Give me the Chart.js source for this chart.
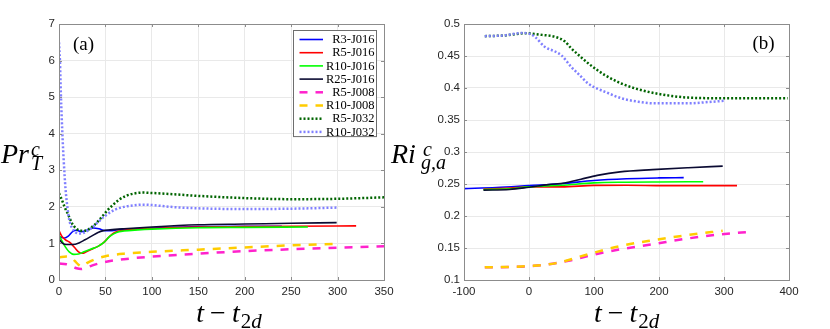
<!DOCTYPE html>
<html>
<head>
<meta charset="utf-8">
<script src="https://cdn.jsdelivr.net/npm/chart.js@4.4.1/dist/chart.umd.min.js"></script>
<style>
  html, body { margin: 0; padding: 0; background: #fff; }
  #wrap { position: relative; width: 830px; height: 329px; overflow: hidden; }
  canvas { position: absolute; top: 0; }
  #cA { left: 0; }
  #cB { left: 385px; }
</style>
</head>
<body>
<div id="wrap">
  <canvas id="cA" width="415" height="329" style="width:415px;height:329px"></canvas>
  <canvas id="cB" width="445" height="329" style="width:445px;height:329px"></canvas>
</div>
<script>
// ---- ticks ----
const xTicksA = [0, 50, 100, 150, 200, 250, 300, 350];
const yTicksA = [0, 1, 2, 3, 4, 5, 6, 7];
const xTicksB = [-100, 0, 100, 200, 300, 400];
const yTicksB = [0.1, 0.15, 0.2, 0.25, 0.3, 0.35, 0.4, 0.45, 0.5];

const seriesNames = ['R3-J016', 'R5-J016', 'R10-J016', 'R25-J016', 'R5-J008', 'R10-J008', 'R5-J032', 'R10-J032'];

// ---- panel (a): Pr_T^c vs t - t2d, [t, value] ----
const prR3J016 = [[0,1.2],[3,1.16],[6,1.15],[10,1.2],[15,1.33],[19,1.36],[24,1.32],[30,1.36],[37,1.42],[43,1.4],[50,1.35],[57,1.35],[65,1.38],[80,1.4],[100,1.42],[150,1.46],[200,1.47],[240,1.47]];
const prR5J016 = [[0,1.35],[3,1.2],[7,1.1],[12,1.02],[17,0.88],[21,0.77],[25,0.73],[30,0.78],[36,0.85],[42,0.92],[48,1.02],[54,1.18],[60,1.3],[70,1.36],[85,1.39],[100,1.41],[150,1.45],[200,1.46],[250,1.47],[320,1.48]];
const prR10J016 = [[0,1.23],[3,1.08],[7,0.9],[11,0.77],[16,0.7],[21,0.71],[27,0.77],[34,0.84],[42,0.92],[48,1.02],[55,1.2],[62,1.3],[70,1.34],[85,1.37],[100,1.39],[150,1.43],[200,1.44],[268,1.45]];
const prR25J016 = [[0,1.12],[4,1.0],[8,0.97],[15,0.97],[22,1.02],[28,1.1],[35,1.2],[42,1.3],[48,1.35],[55,1.37],[70,1.4],[100,1.45],[150,1.51],[200,1.53],[250,1.55],[299,1.57]];
const prR5J008 = [[0,0.45],[8,0.43],[14,0.38],[19,0.32],[24,0.3],[30,0.34],[36,0.4],[44,0.46],[55,0.52],[70,0.57],[100,0.64],[150,0.72],[200,0.79],[250,0.84],[300,0.88],[350,0.92]];
const prR10J008 = [[0,0.62],[8,0.64],[13,0.62],[17,0.52],[21,0.42],[25,0.37],[30,0.46],[38,0.56],[50,0.65],[70,0.72],[100,0.77],[150,0.83],[200,0.89],[250,0.95],[300,0.99]];
const prR5J032 = [[0,2.37],[3,2.2],[6,2.0],[10,1.78],[14,1.55],[18,1.42],[23,1.35],[28,1.35],[34,1.42],[40,1.55],[46,1.72],[52,1.9],[58,2.05],[65,2.2],[72,2.3],[80,2.36],[90,2.39],[100,2.38],[120,2.35],[150,2.3],[200,2.24],[250,2.21],[300,2.22],[350,2.26]];
const prR10J032 = [[0,6.5],[1,6.0],[2,5.1],[3,4.4],[4,3.8],[5,3.3],[7,2.5],[9,2.0],[11,1.65],[14,1.42],[18,1.3],[23,1.27],[29,1.32],[35,1.42],[42,1.58],[50,1.76],[60,1.92],[70,2.0],[80,2.04],[90,2.06],[100,2.05],[120,2.0],[150,1.96],[200,1.94],[250,1.95],[300,1.98]];

// ---- panel (b): Ri_{g,a}^c vs t - t2d ----
const riR3J016 = [[-100,0.2427],[-50,0.2445],[0,0.2475],[50,0.2505],[100,0.2555],[150,0.2582],[200,0.2595],[238,0.26]];
const riR5J016 = [[-70,0.242],[-30,0.2435],[0,0.2455],[50,0.2455],[100,0.2478],[150,0.248],[200,0.2475],[250,0.2474],[320,0.2474]];
const riR10J016 = [[-70,0.2412],[-30,0.2425],[0,0.2455],[50,0.248],[100,0.2518],[150,0.2528],[200,0.2532],[268,0.2535]];
const riR25J016 = [[-70,0.2405],[-30,0.2415],[0,0.245],[30,0.249],[55,0.2515],[80,0.2575],[105,0.2635],[140,0.269],[190,0.2725],[245,0.2755],[298,0.278]];
const riR5J008 = [[-68,0.1198],[-30,0.1203],[0,0.1215],[30,0.1245],[65,0.131],[100,0.1398],[140,0.1478],[190,0.1558],[245,0.165],[296,0.1714],[342,0.1755]];
const riR10J008 = [[-68,0.1198],[-30,0.1205],[0,0.1218],[40,0.126],[90,0.14],[140,0.153],[190,0.162],[245,0.1703],[298,0.177]];
const riR5J032 = [[-68,0.481],[-40,0.482],[-5,0.4855],[20,0.483],[40,0.48],[55,0.473],[65,0.462],[78,0.45],[91,0.4386],[105,0.428],[117,0.42],[142,0.407],[168,0.398],[193,0.392],[220,0.3875],[245,0.385],[300,0.384],[350,0.384],[398,0.384]];
const riR10J032 = [[-68,0.481],[-40,0.482],[-10,0.486],[0,0.485],[9,0.48],[24,0.4646],[40,0.457],[50,0.451],[65,0.433],[78,0.42],[91,0.407],[105,0.399],[117,0.394],[142,0.384],[168,0.3786],[193,0.376],[245,0.376],[275,0.378],[300,0.38]];

const panelA = [prR3J016, prR5J016, prR10J016, prR25J016, prR5J008, prR10J008, prR5J032, prR10J032];
const panelB = [riR3J016, riR5J016, riR10J016, riR25J016, riR5J008, riR10J008, riR5J032, riR10J032];

const lineStyles = [
  { color: '#0000ff', width: 1.6, dash: [] },
  { color: '#ff0000', width: 1.6, dash: [] },
  { color: '#00ff00', width: 1.6, dash: [] },
  { color: '#0b0b33', width: 1.6, dash: [] },
  { color: '#ff22cc', width: 2.5, dash: [8, 8] },
  { color: '#ffcc00', width: 2.5, dash: [8, 8] },
  { color: '#006400', width: 2.5, dash: [2, 2] },
  { color: '#8080ff', width: 2.5, dash: [2, 2] }
];

function buildDatasets(series) {
  return series.map((pts, i) => ({
    label: seriesNames[i],
    data: pts.map(([x, y]) => ({ x, y })),
    borderColor: lineStyles[i].color,
    backgroundColor: lineStyles[i].color,
    borderWidth: lineStyles[i].width,
    borderDash: lineStyles[i].dash,
    borderCapStyle: 'butt',
    pointRadius: 0,
    fill: false,
    cubicInterpolationMode: 'monotone',
    order: series.length - i
  }));
}

const SERIF = '"Liberation Serif", "Times New Roman", serif';

// text runs: {t, size, it, dy, gap, back}
function drawRuns(ctx, runs, x0, base) {
  let x = x0;
  for (const r of runs) {
    ctx.font = (r.it ? 'italic ' : '') + r.size + 'px ' + SERIF;
    x += r.gap || 0;
    ctx.fillText(r.t, x, base + (r.dy || 0));
    if (!r.back) x += ctx.measureText(r.t).width;
  }
  return x - x0;
}
function runsWidth(ctx, runs) {
  let w = 0;
  for (const r of runs) {
    ctx.font = (r.it ? 'italic ' : '') + r.size + 'px ' + SERIF;
    w += r.gap || 0;
    if (!r.back) w += ctx.measureText(r.t).width;
  }
  return w;
}

const xTitleRuns = [
  { t: 't', size: 28, it: true },
  { t: '\u2212', size: 28, gap: 6 },
  { t: 't', size: 28, it: true, gap: 6 },
  { t: '2', size: 21, dy: 6, gap: 1 },
  { t: 'd', size: 21, it: true, dy: 6 }
];

const deco = {
  id: 'deco',
  afterDatasetsDraw(chart, args, o) {
    const { ctx, chartArea: a } = chart;
    const xs = chart.scales.x, ys = chart.scales.y;
    ctx.save();
    ctx.strokeStyle = '#8c8c8c';
    ctx.lineWidth = 1;
    ctx.setLineDash([]);
    ctx.beginPath();
    xs.ticks.forEach(t => {
      const p = Math.round(xs.getPixelForValue(t.value)) + 0.5;
      ctx.moveTo(p, a.bottom); ctx.lineTo(p, a.bottom - 3);
      ctx.moveTo(p, a.top); ctx.lineTo(p, a.top + 3);
    });
    ys.ticks.forEach(t => {
      const p = Math.round(ys.getPixelForValue(t.value)) + 0.5;
      ctx.moveTo(a.left, p); ctx.lineTo(a.left + 3, p);
      ctx.moveTo(a.right, p); ctx.lineTo(a.right - 3, p);
    });
    ctx.stroke();
    ctx.strokeRect(Math.round(a.left) + 0.5, Math.round(a.top) + 0.5, Math.round(a.width), Math.round(a.height));

    if (o.legend) {
      const bw = 83, rowH = 13.2;
      const n = chart.data.datasets.length;
      const bx = Math.round(a.right - 8) - bw + 0.5, by = Math.round(a.top + 6) + 0.5;
      const bh = rowH * n + 0.5;
      ctx.fillStyle = '#fff';
      ctx.fillRect(bx, by, bw, bh);
      ctx.strokeStyle = '#6e6e6e';
      ctx.strokeRect(bx, by, bw, bh);
      ctx.font = '12.5px ' + SERIF;
      ctx.textAlign = 'right';
      ctx.textBaseline = 'middle';
      chart.data.datasets.forEach((ds, i) => {
        const cy = by + 9 + i * rowH;
        ctx.beginPath();
        ctx.strokeStyle = ds.borderColor;
        ctx.lineWidth = ds.borderWidth;
        ctx.setLineDash(ds.borderDash);
        ctx.lineCap = 'butt';
        ctx.moveTo(bx + 6, cy);
        ctx.lineTo(bx + 29.5, cy);
        ctx.stroke();
        ctx.setLineDash([]);
        ctx.fillStyle = '#000';
        ctx.fillText(ds.label, bx + bw - 2, cy + 0.5);
      });
    }
    ctx.restore();
  },
  afterDraw(chart, args, o) {
    const ctx = chart.ctx;
    ctx.save();
    ctx.fillStyle = '#000';
    ctx.textAlign = 'left';
    ctx.textBaseline = 'alphabetic';
    drawRuns(ctx, o.yTitle, o.yTitleX, o.yTitleY);
    const w = runsWidth(ctx, xTitleRuns);
    drawRuns(ctx, xTitleRuns, o.xTitleCx - w / 2, o.xTitleY);
    ctx.font = '19px ' + SERIF;
    ctx.fillText(o.panel, o.panelX, o.panelY);
    ctx.restore();
  }
};

function makeChart(id, series, xTicks, yTicks, xr, yr, yAxisW, padRight, decoOpts) {
  const tickFont = { family: '"Liberation Sans", Arial, sans-serif', size: 11.5 };
  return new Chart(document.getElementById(id), {
    type: 'line',
    data: { datasets: buildDatasets(series) },
    plugins: [deco],
    options: {
      responsive: false,
      animation: false,
      devicePixelRatio: 1,
      layout: { padding: { left: 0, top: 24, right: padRight, bottom: 0 } },
      plugins: {
        legend: { display: false },
        tooltip: { enabled: false },
        deco: decoOpts
      },
      scales: {
        x: {
          type: 'linear', min: xr[0], max: xr[1],
          afterBuildTicks: s => { s.ticks = xTicks.map(v => ({ value: v })); },
          afterFit: s => { s.height = 49; },
          ticks: { font: tickFont, color: '#262626', padding: 5, maxRotation: 0, autoSkip: false, callback: v => String(v) },
          grid: { color: '#e9e9e9', drawTicks: false },
          border: { display: false }
        },
        y: {
          type: 'linear', min: yr[0], max: yr[1],
          afterBuildTicks: s => { s.ticks = yTicks.map(v => ({ value: v })); },
          afterFit: s => { s.width = yAxisW; },
          ticks: { font: tickFont, color: '#262626', padding: 4, autoSkip: false, callback: v => String(v) },
          grid: { color: '#e9e9e9', drawTicks: false },
          border: { display: false }
        }
      }
    }
  });
}

makeChart('cA', panelA, xTicksA, yTicksA, [0, 350], [0, 7], 59, 31, {
  legend: true,
  yTitle: [
    { t: 'Pr', size: 28, it: true },
    { t: 'c', size: 20, it: true, dy: -7, gap: 2, back: true },
    { t: 'T', size: 20, it: true, dy: 7 }
  ],
  yTitleX: 1, yTitleY: 163,
  xTitleCx: 229, xTitleY: 322,
  panel: '(a)', panelX: 73, panelY: 50
});

makeChart('cB', panelB, xTicksB, yTicksB, [-100, 400], [0.1, 0.5], 79, 41, {
  legend: false,
  yTitle: [
    { t: 'Ri', size: 28, it: true },
    { t: 'c', size: 20, it: true, dy: -7, gap: 7, back: true },
    { t: 'g,a', size: 20, it: true, dy: 6, gap: -2 }
  ],
  yTitleX: 6, yTitleY: 163,
  xTitleCx: 241.7, xTitleY: 322,
  panel: '(b)', panelX: 367.5, panelY: 49
});
</script>
</body>
</html>
